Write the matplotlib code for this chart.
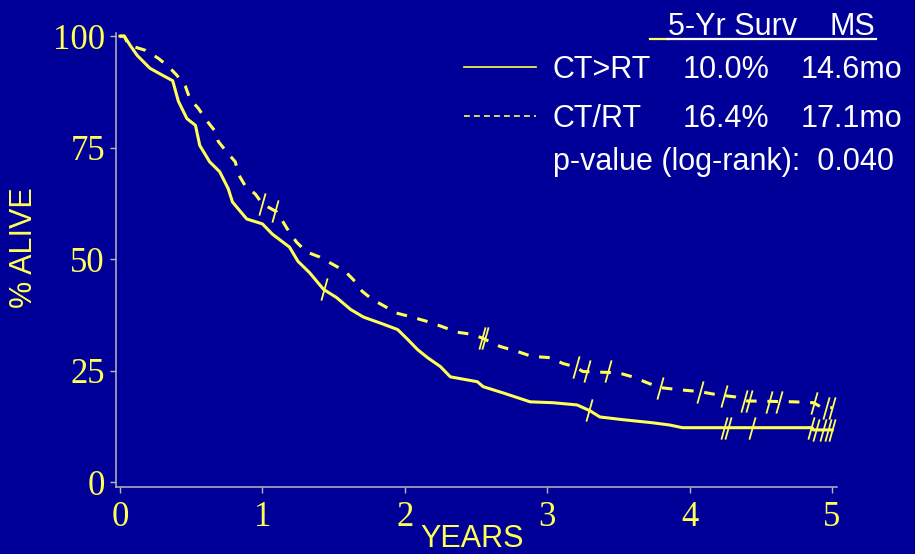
import numpy as np
import matplotlib
matplotlib.use('Agg')
import matplotlib.pyplot as plt
from matplotlib.path import Path
from matplotlib.lines import Line2D

# Kaplan-Meier curves (years, % alive)
ct_rt_seq_t = [0, 0.03, 0.07, 0.12, 0.21, 0.30, 0.37, 0.41, 0.47, 0.53, 0.56, 0.63,
               0.70, 0.76, 0.79, 0.89, 1.00, 1.07, 1.19, 1.25, 1.33, 1.43, 1.52,
               1.62, 1.71, 1.85, 1.95, 2.02, 2.09, 2.16, 2.25, 2.32, 2.51, 2.55,
               2.69, 2.88, 3.04, 3.21, 3.30, 3.37, 3.53, 3.74, 3.86, 3.95, 4.86,
               4.87, 5.0]
ct_rt_seq_s = [100, 100, 98, 95.7, 92.8, 91.2, 90, 85.4, 81.5, 80, 75.5, 71.8,
               69.6, 65.8, 62.8, 59, 57.9, 55.6, 52.7, 49.5, 47, 43.2, 41.4,
               38.7, 37, 35.4, 34.2, 32, 29.7, 27.9, 25.9, 23.6, 22.5, 21.4,
               20, 18, 17.8, 17.3, 16, 14.6, 14, 13.3, 12.8, 12.2, 12.2,
               11.7, 11.7]
# censored patients (tick marks)
ct_rt_seq_cens_t = [1.43, 3.29, 4.24, 4.27, 4.44, 4.85, 4.89, 4.94, 4.97, 5.0]
ct_rt_seq_cens_s = [43.2, 16.2, 12.2, 12.2, 12.2, 12.2, 11.7, 11.7, 11.7, 11.7]

ct_rt_con_t = [0, 0.03, 0.06, 0.18, 0.27, 0.34, 0.40, 0.46, 0.49, 0.55, 0.61, 0.67,
               0.69, 0.75, 0.81, 0.83, 0.88, 0.95, 1.00, 1.10, 1.14, 1.19, 1.24,
               1.31, 1.40, 1.49, 1.58, 1.65, 1.70, 1.77, 1.86, 1.93, 2.05, 2.16,
               2.25, 2.37, 2.48, 2.55, 2.67, 2.79, 2.89, 3.02, 3.11, 3.20, 3.25,
               3.50, 3.60, 3.70, 3.79, 3.93, 4.07, 4.19, 4.32, 4.40, 4.73, 4.87,
               4.93, 5.0]
ct_rt_con_s = [100, 100, 98, 96.8, 95, 93.2, 91.2, 88.7, 86, 83.8, 81, 78.6,
               76.4, 74, 71.8, 69.1, 66.4, 64.6, 62.4, 60.6, 58.6, 56, 53.8,
               51.6, 50.5, 48.9, 47.3, 45, 42.8, 41, 39.4, 38, 37, 36,
               35, 33.6, 33.1, 32.2, 30.4, 29.3, 28.2, 27.9, 26.6, 25.8, 24.8,
               24.5, 23.6, 22.3, 21.2, 20.7, 20.3, 19.6, 19.1, 18.2, 18, 17.8,
               16.7, 16.7]
ct_rt_con_cens_t = [1.0, 1.09, 2.54, 2.56, 3.20, 3.28, 3.43, 3.79, 4.07, 4.24,
                    4.38, 4.42, 4.56, 4.63, 4.87, 4.96, 5.0]
ct_rt_con_cens_s = [62.4, 60.8, 32.4, 32.4, 25.8, 24.8, 24.8, 21.2, 20.3, 19.4,
                    18.2, 18.2, 18.0, 18.0, 17.8, 16.7, 16.7]

x_ticks = [0, 1, 2, 3, 4, 5]
y_ticks = [0, 25, 50, 75, 100]

BG = '#000099'
YEL = '#FFFF55'
W, H = 915, 554


def fx(px):
    return px / W


def fy(py):
    return 1 - py / H


tick_mark = Path([(-0.28, -1), (0.28, 1)], [Path.MOVETO, Path.LINETO])

fig = plt.figure(figsize=(W / 100, H / 100), dpi=100, facecolor=BG)
ax = fig.add_axes([fx(116), fy(487), fx(837) - fx(116), fy(33) - fy(487)])
ax.set_facecolor(BG)

ax.plot(ct_rt_seq_t, ct_rt_seq_s, color=YEL, lw=2.2)
ax.plot(ct_rt_con_t, ct_rt_con_s, color=YEL, lw=2.2,
        linestyle=(0, (3.5, 3.5)))
ax.plot(ct_rt_seq_cens_t, ct_rt_seq_cens_s, linestyle='none', marker=tick_mark,
        markersize=16, markeredgewidth=1.3, color=YEL)
ax.plot(ct_rt_con_cens_t, ct_rt_con_cens_s, linestyle='none', marker=tick_mark,
        markersize=16, markeredgewidth=1.3, color=YEL)

ax.set_xlim(-0.028, 5.035)
ax.set_ylim(-1.1, 100.7)
ax.set_xticks(x_ticks)
ax.set_yticks(y_ticks)
ax.set_xticklabels([str(v) for v in x_ticks])
ax.set_yticklabels([str(v) for v in y_ticks])
for sp in ['top', 'right']:
    ax.spines[sp].set_visible(False)
for sp in ['left', 'bottom']:
    ax.spines[sp].set_color('#B8B8B8')
    ax.spines[sp].set_linewidth(1.1)
ax.tick_params(axis='both', colors='#B8B8B8', length=4, width=1)
ax.tick_params(axis='y', pad=4)
ax.tick_params(axis='x', pad=6)
for lab in ax.get_xticklabels() + ax.get_yticklabels():
    lab.set_family('Liberation Serif')
    lab.set_fontsize(25)
    lab.set_color(YEL)

fig.text(fx(24), fy(248), '% ALIVE', rotation=90, ha='center', va='center',
         family='Liberation Sans', fontsize=22, color=YEL)
fig.text(fx(472), fy(547), 'YEARS', ha='center', va='baseline',
         family='Liberation Sans', fontsize=22, color=YEL)

# legend / summary block
txt = dict(family='Liberation Sans', fontsize=22, color='white', va='baseline')
fig.text(fx(668), fy(35), '5-Yr Surv', **txt)
fig.text(fx(830), fy(35), 'MS', **txt)
fig.add_artist(Line2D([fx(650), fx(668)], [fy(39), fy(39)], color=YEL, lw=1.6,
                      transform=fig.transFigure))
fig.add_artist(Line2D([fx(668), fx(876)], [fy(39), fy(39)], color='white', lw=1.6,
                      transform=fig.transFigure))

rows = [('CT>RT', '10.0%', '14.6mo', 78, '-'),
        ('CT/RT', '16.4%', '17.1mo', 127, (0, (3.5, 2.5)))]
for name, surv, ms, base, ls in rows:
    fig.text(fx(553), fy(base), name, **txt)
    fig.text(fx(683), fy(base), surv, **txt)
    fig.text(fx(801), fy(base), ms, **txt)
    fig.add_artist(Line2D([fx(464), fx(536)], [fy(base - 11), fy(base - 11)],
                          color=YEL, lw=1.2, linestyle=ls,
                          transform=fig.transFigure))
fig.text(fx(553), fy(170), 'p-value (log-rank):  0.040', **txt)

fig.savefig('out.png', dpi=100, facecolor=BG)
